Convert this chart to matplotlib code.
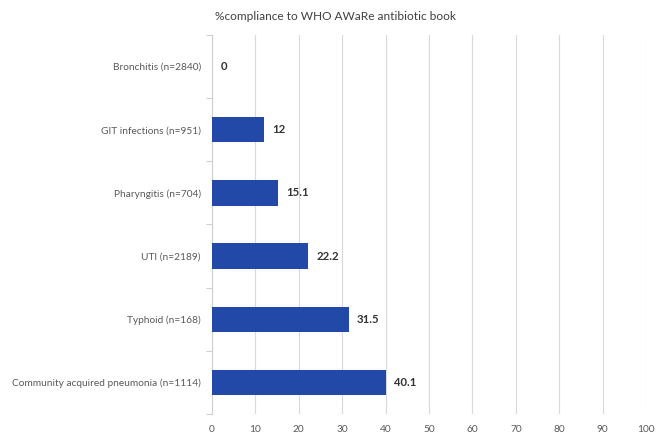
import matplotlib.pyplot as plt
import numpy as np

plt.rcParams["font.family"] = ["Lato", "DejaVu Sans"]

categories = [
    "Bronchitis (n=2840)",
    "GIT infections (n=951)",
    "Pharyngitis (n=704)",
    "UTI (n=2189)",
    "Typhoid (n=168)",
    "Community acquired pneumonia (n=1114)",
]
compliance = [0, 12, 15.1, 22.2, 31.5, 40.1]
value_labels = ["0", "12", "15.1", "22.2", "31.5", "40.1"]
x_ticks = [0, 10, 20, 30, 40, 50, 60, 70, 80, 90, 100]

fig = plt.figure(figsize=(6.64, 4.34), dpi=100)
ax = fig.add_axes([0.3193, 0.0461, 0.6536, 0.8733])

y = np.arange(len(categories))
ax.barh(y, compliance, height=0.4, color="#2349A8", linewidth=0, zorder=3)

for yi, v, lab in zip(y, compliance, value_labels):
    ax.text(v + 1.9, yi, lab, va="center", ha="left", fontsize=8.2,
            fontweight="bold", color="#333333")

ax.set_ylim(len(categories) - 0.5, -0.5)
ax.set_xlim(0, 100)
ax.set_yticks(y)
ax.set_yticklabels(categories)
ax.set_yticks(np.arange(-0.5, len(categories), 1), minor=True)
ax.set_xticks(x_ticks)

ax.tick_params(axis="y", which="major", length=0, pad=8, labelsize=7.3,
               labelcolor="#595959")
ax.tick_params(axis="y", which="minor", length=4, color="#d0d0d0", width=0.8)
ax.tick_params(axis="x", length=0, pad=8, labelsize=7.3, labelcolor="#595959")

ax.grid(axis="x", color="#d9d9d9", linewidth=0.8, zorder=0)
for side in ["top", "right", "bottom"]:
    ax.spines[side].set_visible(False)
ax.spines["left"].set_color("#d0d0d0")
ax.spines["left"].set_linewidth(0.8)

fig.text(0.506, 0.963, "%compliance to WHO AWaRe antibiotic book",
         ha="center", va="center", fontsize=8.6, color="#404040")

fig.savefig("out.png", dpi=100)
